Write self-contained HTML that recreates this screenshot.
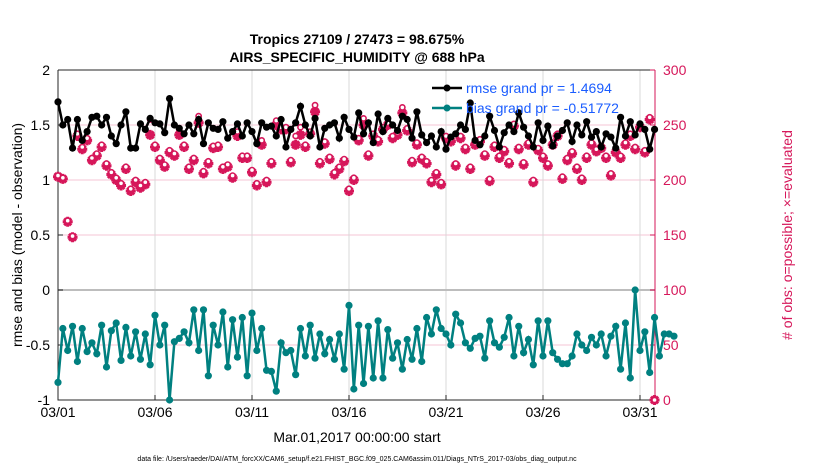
<!DOCTYPE html>
<html><head><meta charset="utf-8"><style>
body{margin:0;background:#fff;}
svg text{font-family:"Liberation Sans",Arial,sans-serif;}
</style></head><body>
<svg id="chart" width="830" height="470" xmlns="http://www.w3.org/2000/svg">
<rect width="830" height="470" fill="#fff"/>
<text x="357" y="44" text-anchor="middle" font-size="14" font-weight="bold">Tropics 27109 / 27473 = 98.675%</text>
<text x="357" y="62" text-anchor="middle" font-size="14" font-weight="bold">AIRS_SPECIFIC_HUMIDITY @ 688 hPa</text>
<g id="grid"></g>
<g id="axes"></g>
<g id="series"></g>
<g id="legend">
<line x1="432" y1="88" x2="462" y2="88" stroke="#000" stroke-width="2.5"/>
<circle cx="447" cy="88" r="3.5" fill="#000"/>
<text x="466" y="93" font-size="14" fill="#1a5cff">rmse grand pr = 1.4694</text>
<line x1="432" y1="108" x2="462" y2="108" stroke="#008080" stroke-width="2.5"/>
<circle cx="447" cy="108" r="3.5" fill="#008080"/>
<text x="466" y="113" font-size="14" fill="#1a5cff">bias grand pr = -0.51772</text>
</g>
<text transform="translate(22,235) rotate(-90)" text-anchor="middle" font-size="14">rmse and bias (model - observation)</text>
<text transform="translate(792,235) rotate(-90)" text-anchor="middle" font-size="14" fill="#d6175a"># of obs: o=possible; ×=evaluated</text>
<text x="357" y="442" text-anchor="middle" font-size="14">Mar.01,2017 00:00:00 start</text>
<text x="357" y="461" text-anchor="middle" font-size="7">data file: /Users/raeder/DAI/ATM_forcXX/CAM6_setup/f.e21.FHIST_BGC.f09_025.CAM6assim.011/Diags_NTrS_2017-03/obs_diag_output.nc</text>
</svg>
<script>
const tickDays=[0,5,10,15,20,25,30];
const tickLabels=["03/01","03/06","03/11","03/16","03/21","03/26","03/31"];
const leftTicks=[-1,-0.5,0,0.5,1,1.5,2];
const rightTicks=[0,50,100,150,200,250,300];
const rmse=[1.71,1.50,1.55,1.29,1.55,1.36,1.44,1.57,1.58,1.50,1.57,1.40,1.33,1.50,1.62,1.29,1.29,1.51,1.46,1.56,1.52,1.51,1.43,1.74,1.50,1.47,1.42,1.50,1.42,1.55,1.33,1.52,1.47,1.46,1.53,1.38,1.44,1.51,1.40,1.52,1.44,1.33,1.52,1.48,1.49,1.40,1.55,1.30,1.46,1.52,1.67,1.50,1.40,1.56,1.30,1.47,1.50,1.52,1.38,1.57,1.46,1.39,1.61,1.42,1.52,1.34,1.60,1.44,1.56,1.50,1.45,1.58,1.55,1.38,1.62,1.41,1.34,1.40,1.30,1.44,1.28,1.39,1.42,1.50,1.46,1.70,1.36,1.32,1.40,1.58,1.45,1.30,1.43,1.50,1.44,1.61,1.48,1.40,1.30,1.52,1.36,1.49,1.31,1.40,1.45,1.52,1.35,1.50,1.41,1.53,1.39,1.44,1.30,1.42,1.39,1.29,1.57,1.40,1.53,1.41,1.51,1.46,1.28,1.46];
const bias=[-0.84,-0.35,-0.55,-0.33,-0.65,-0.35,-0.56,-0.48,-0.58,-0.32,-0.70,-0.37,-0.30,-0.64,-0.34,-0.60,-0.38,-0.63,-0.40,-0.68,-0.23,-0.50,-0.32,-1.00,-0.47,-0.44,-0.38,-0.48,-0.18,-0.55,-0.18,-0.78,-0.32,-0.50,-0.20,-0.70,-0.27,-0.61,-0.25,-0.78,-0.21,-0.55,-0.35,-0.73,-0.74,-0.92,-0.48,-0.57,-0.55,-0.77,-0.35,-0.60,-0.32,-0.62,-0.40,-0.58,-0.45,-0.63,-0.40,-0.72,-0.14,-0.90,-0.32,-0.85,-0.33,-0.80,-0.28,-0.80,-0.36,-0.62,-0.48,-0.72,-0.45,-0.63,-0.35,-0.65,-0.25,-0.40,-0.18,-0.35,-0.40,-0.50,-0.22,-0.30,-0.48,-0.53,-0.44,-0.42,-0.62,-0.28,-0.48,-0.52,-0.43,-0.25,-0.60,-0.33,-0.57,-0.45,-0.68,-0.28,-0.60,-0.28,-0.57,-0.63,-0.67,-0.67,-0.60,-0.40,-0.50,-0.55,-0.43,-0.50,-0.40,-0.60,-0.42,-0.33,-0.72,-0.30,-0.80,0.00,-0.55,-0.38,-0.75,-0.25,-0.60,-0.40,-0.40,-0.42];
const nEval=[203,201,162,148,240,228,236,218,222,230,213,205,200,195,210,190,198,193,196,241,230,218,212,225,222,241,230,210,218,252,206,215,229,230,210,212,202,240,220,220,207,195,232,198,215,250,246,246,216,232,241,230,242,262,215,233,219,205,210,217,190,200,236,250,222,240,235,246,250,238,241,261,245,216,232,219,215,198,205,196,238,235,213,238,228,210,232,235,222,199,230,220,226,215,249,228,214,232,198,227,220,213,232,240,201,218,224,210,200,220,232,226,229,220,204,225,220,232,240,228,248,225,255,0];
const nPoss=[204,202,163,149,242,230,238,220,224,232,215,207,202,197,212,192,200,195,198,255,232,220,214,227,224,246,232,212,220,258,208,217,231,232,212,214,204,244,222,222,209,197,236,200,217,254,248,248,218,240,248,232,244,268,217,235,221,207,212,219,192,202,238,256,224,242,237,248,252,240,243,266,247,218,234,221,217,200,207,198,240,237,215,240,230,212,234,237,224,201,232,222,228,217,251,230,216,234,200,229,222,215,234,242,203,220,226,212,202,222,234,228,231,222,206,227,222,234,242,230,250,227,257,0];

const NS="http://www.w3.org/2000/svg";
const X0=58,X1=655,Y0=400,Y1=70,PXDAY=19.4;
const xOf=i=>X0+i*0.25*PXDAY;
const xDay=d=>X0+d*PXDAY;
const yL=v=>Y0-(v+1)/3*(Y0-Y1);
const yR=v=>Y0-v/300*(Y0-Y1);
const red="#d6175a";
function mk(tag,attrs,parent){const e=document.createElementNS(NS,tag);for(const k in attrs)e.setAttribute(k,attrs[k]);parent.appendChild(e);return e;}
const grid=document.getElementById('grid'),axes=document.getElementById('axes'),ser=document.getElementById('series');
leftTicks.forEach(v=>{ if(v>-1&&v<2&&v!==0){const l=mk('line',{x1:X0,x2:X1,y1:yL(v),y2:yL(v),stroke:"#f6c6d6","stroke-width":1},grid);

}});
tickDays.forEach(d=>{const l=mk('line',{x1:xDay(d),x2:xDay(d),y1:Y1,y2:Y0,stroke:"#d8d8d8","stroke-width":1},grid);

});
const zl=mk('line',{x1:X0,x2:X1,y1:yL(0),y2:yL(0),stroke:"#bdbdbd","stroke-width":2},grid);


const fr=mk('path',{d:`M${X0},${Y1}H${X1}M${X0},${Y1}V${Y0}H${X1}`,stroke:"#262626",fill:"none","stroke-width":1},axes);


const ra=mk('line',{x1:X1,x2:X1,y1:Y1,y2:Y0,stroke:red,"stroke-width":1},axes);


leftTicks.forEach(v=>{mk('line',{x1:X0,x2:X0+5,y1:yL(v),y2:yL(v),stroke:"#262626"},axes);
const t=mk('text',{x:X0-8,y:yL(v)+5,"text-anchor":"end","font-size":14},axes);t.textContent=String(v);

});
rightTicks.forEach(v=>{mk('line',{x1:X1-5,x2:X1,y1:yR(v),y2:yR(v),stroke:red},axes);
const t=mk('text',{x:X1+8,y:yR(v)+5,"font-size":14,fill:red},axes);t.textContent=String(v);

});
tickDays.forEach((d,i)=>{mk('line',{x1:xDay(d),x2:xDay(d),y1:Y0,y2:Y0-5,stroke:"#262626"},axes);
const t=mk('text',{x:xDay(d),y:Y0+17,"text-anchor":"middle","font-size":14},axes);t.textContent=tickLabels[i];

});
nEval.forEach((v,i)=>{const x=xOf(i),y=yR(v),s=5;
const g=mk('path',{d:`M${x-s},${y}H${x+s}M${x},${y-s}V${y+s}M${x-3.5},${y-3.5}L${x+3.5},${y+3.5}M${x-3.5},${y+3.5}L${x+3.5},${y-3.5}`,stroke:red,"stroke-width":3,fill:"none"},ser);

});
nPoss.forEach((v,i)=>{const c=mk('circle',{cx:xOf(i),cy:yR(v),r:2.6,fill:"#fff",stroke:red,"stroke-width":1.6},ser);

});
function line(arr,color,name){
const p=mk('polyline',{points:arr.map((v,i)=>xOf(i)+","+yL(v)).join(" "),fill:"none",stroke:color,"stroke-width":2.5},ser);


arr.forEach((v,i)=>{const c=mk('circle',{cx:xOf(i),cy:yL(v),r:3.6,fill:color},ser);

});}
line(rmse,"#000","rmse");
line(bias,"#008080","bias");
ser.parentNode.appendChild(document.getElementById('legend'));
</script>
</body></html>
